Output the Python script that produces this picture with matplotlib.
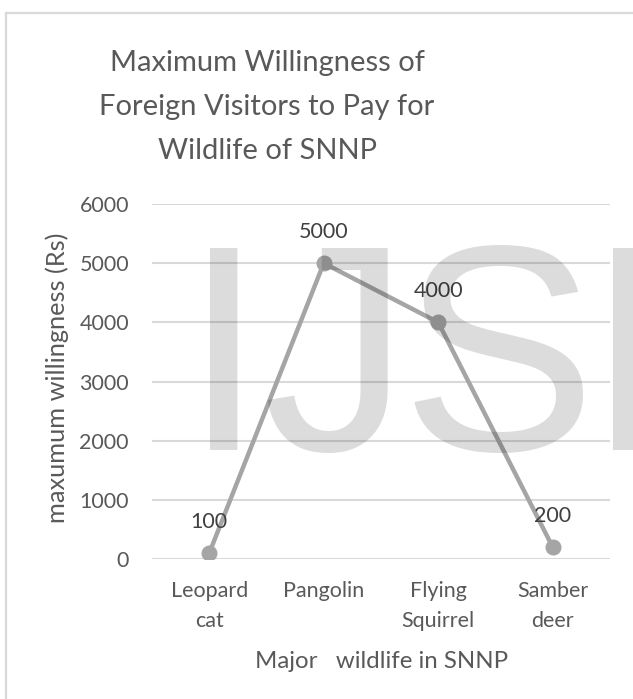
import matplotlib
matplotlib.use("Agg")
import matplotlib.pyplot as plt
from matplotlib.patches import Rectangle

categories = ["Leopard\ncat", "Pangolin", "Flying\nSquirrel", "Samber\ndeer"]
values = [100, 5000, 4000, 200]
yticks = [0, 1000, 2000, 3000, 4000, 5000, 6000]

title_lines = ["Maximum Willingness of", "Foreign Visitors to Pay for", "Wildlife of SNNP"]
xlabel = "Major   wildlife in SNNP"
ylabel = "maxumum willingness (Rs)"
watermark = ["I", "J", "S", "E"]

W, H = 633, 699
DPI = 100
TEXT = "#595959"
GRID = "#d9d9d9"
LINE = "#a5a5a5"
FONT = ["Lato", "DejaVu Sans"]


def px(v):
    return v * 72.0 / DPI


fig = plt.figure(figsize=(W / DPI, H / DPI), dpi=DPI)
fig.patch.set_facecolor("white")

# chart frame (runs off the right and bottom edges)
fig.patches.append(Rectangle((6 / W, -0.2), 1.2, 1.2 - 13 / H, transform=fig.transFigure,
                             fill=False, edgecolor=GRID, linewidth=1.6))

# plot area
x0, x1 = 152, 610
y0, y1 = 559, 204
ax = fig.add_axes([x0 / W, 1 - y0 / H, (x1 - x0) / W, (y0 - y1) / H])
ax.set_xlim(-0.5, len(categories) - 0.5)
ax.set_ylim(0, 6000)
for s in ax.spines.values():
    s.set_visible(False)
ax.set_yticks(yticks)
ax.yaxis.grid(True, color=GRID, linewidth=1.5)
ax.set_axisbelow(True)
ax.tick_params(axis="both", length=0, colors=TEXT, labelsize=15.5)
ax.set_yticklabels([str(v) for v in yticks], fontfamily=FONT)
ax.tick_params(axis="y", pad=px(23))
xs = list(range(len(categories)))
ax.set_xticks(xs)
ax.set_xticklabels(categories, fontfamily=FONT, linespacing=1.6)
ax.tick_params(axis="x", pad=px(22))

ax.plot(xs, values, color=LINE, linewidth=3.2, marker="o", markersize=10.5,
        solid_capstyle="round", zorder=3)
for x, v in zip(xs, values):
    ax.annotate(str(v), (x, v), xytext=(0, px(25)), textcoords="offset points",
                ha="center", va="baseline", color="#404040", fontsize=15.5,
                fontfamily=FONT)

ax.set_xlabel(xlabel, color=TEXT, fontsize=17.3, fontfamily=FONT)
ax.xaxis.set_label_coords(382 / W, 1 - 668 / H, transform=fig.transFigure)
ax.xaxis.label.set_va("baseline")
ax.set_ylabel(ylabel, color=TEXT, fontsize=18.3, fontfamily=FONT)
ax.yaxis.set_label_coords(57 / W, 1 - 378 / H, transform=fig.transFigure)
ax.yaxis.label.set_va("center")

for i, line in enumerate(title_lines):
    fig.text(267 / W, 1 - (71 + 44 * i) / H, line, ha="center", va="baseline",
             color=TEXT, fontsize=21, fontfamily=FONT)

# watermark letters, each placed on its own
for ch, xl in zip(watermark, [183, 262, 401, 589]):
    fig.text(xl / W, 1 - 450 / H, ch, ha="left", va="baseline", color="black",
             alpha=0.137, fontsize=211, fontfamily=["Liberation Sans", "DejaVu Sans"],
             zorder=10)

fig.savefig("out.png", dpi=DPI, facecolor="white")
